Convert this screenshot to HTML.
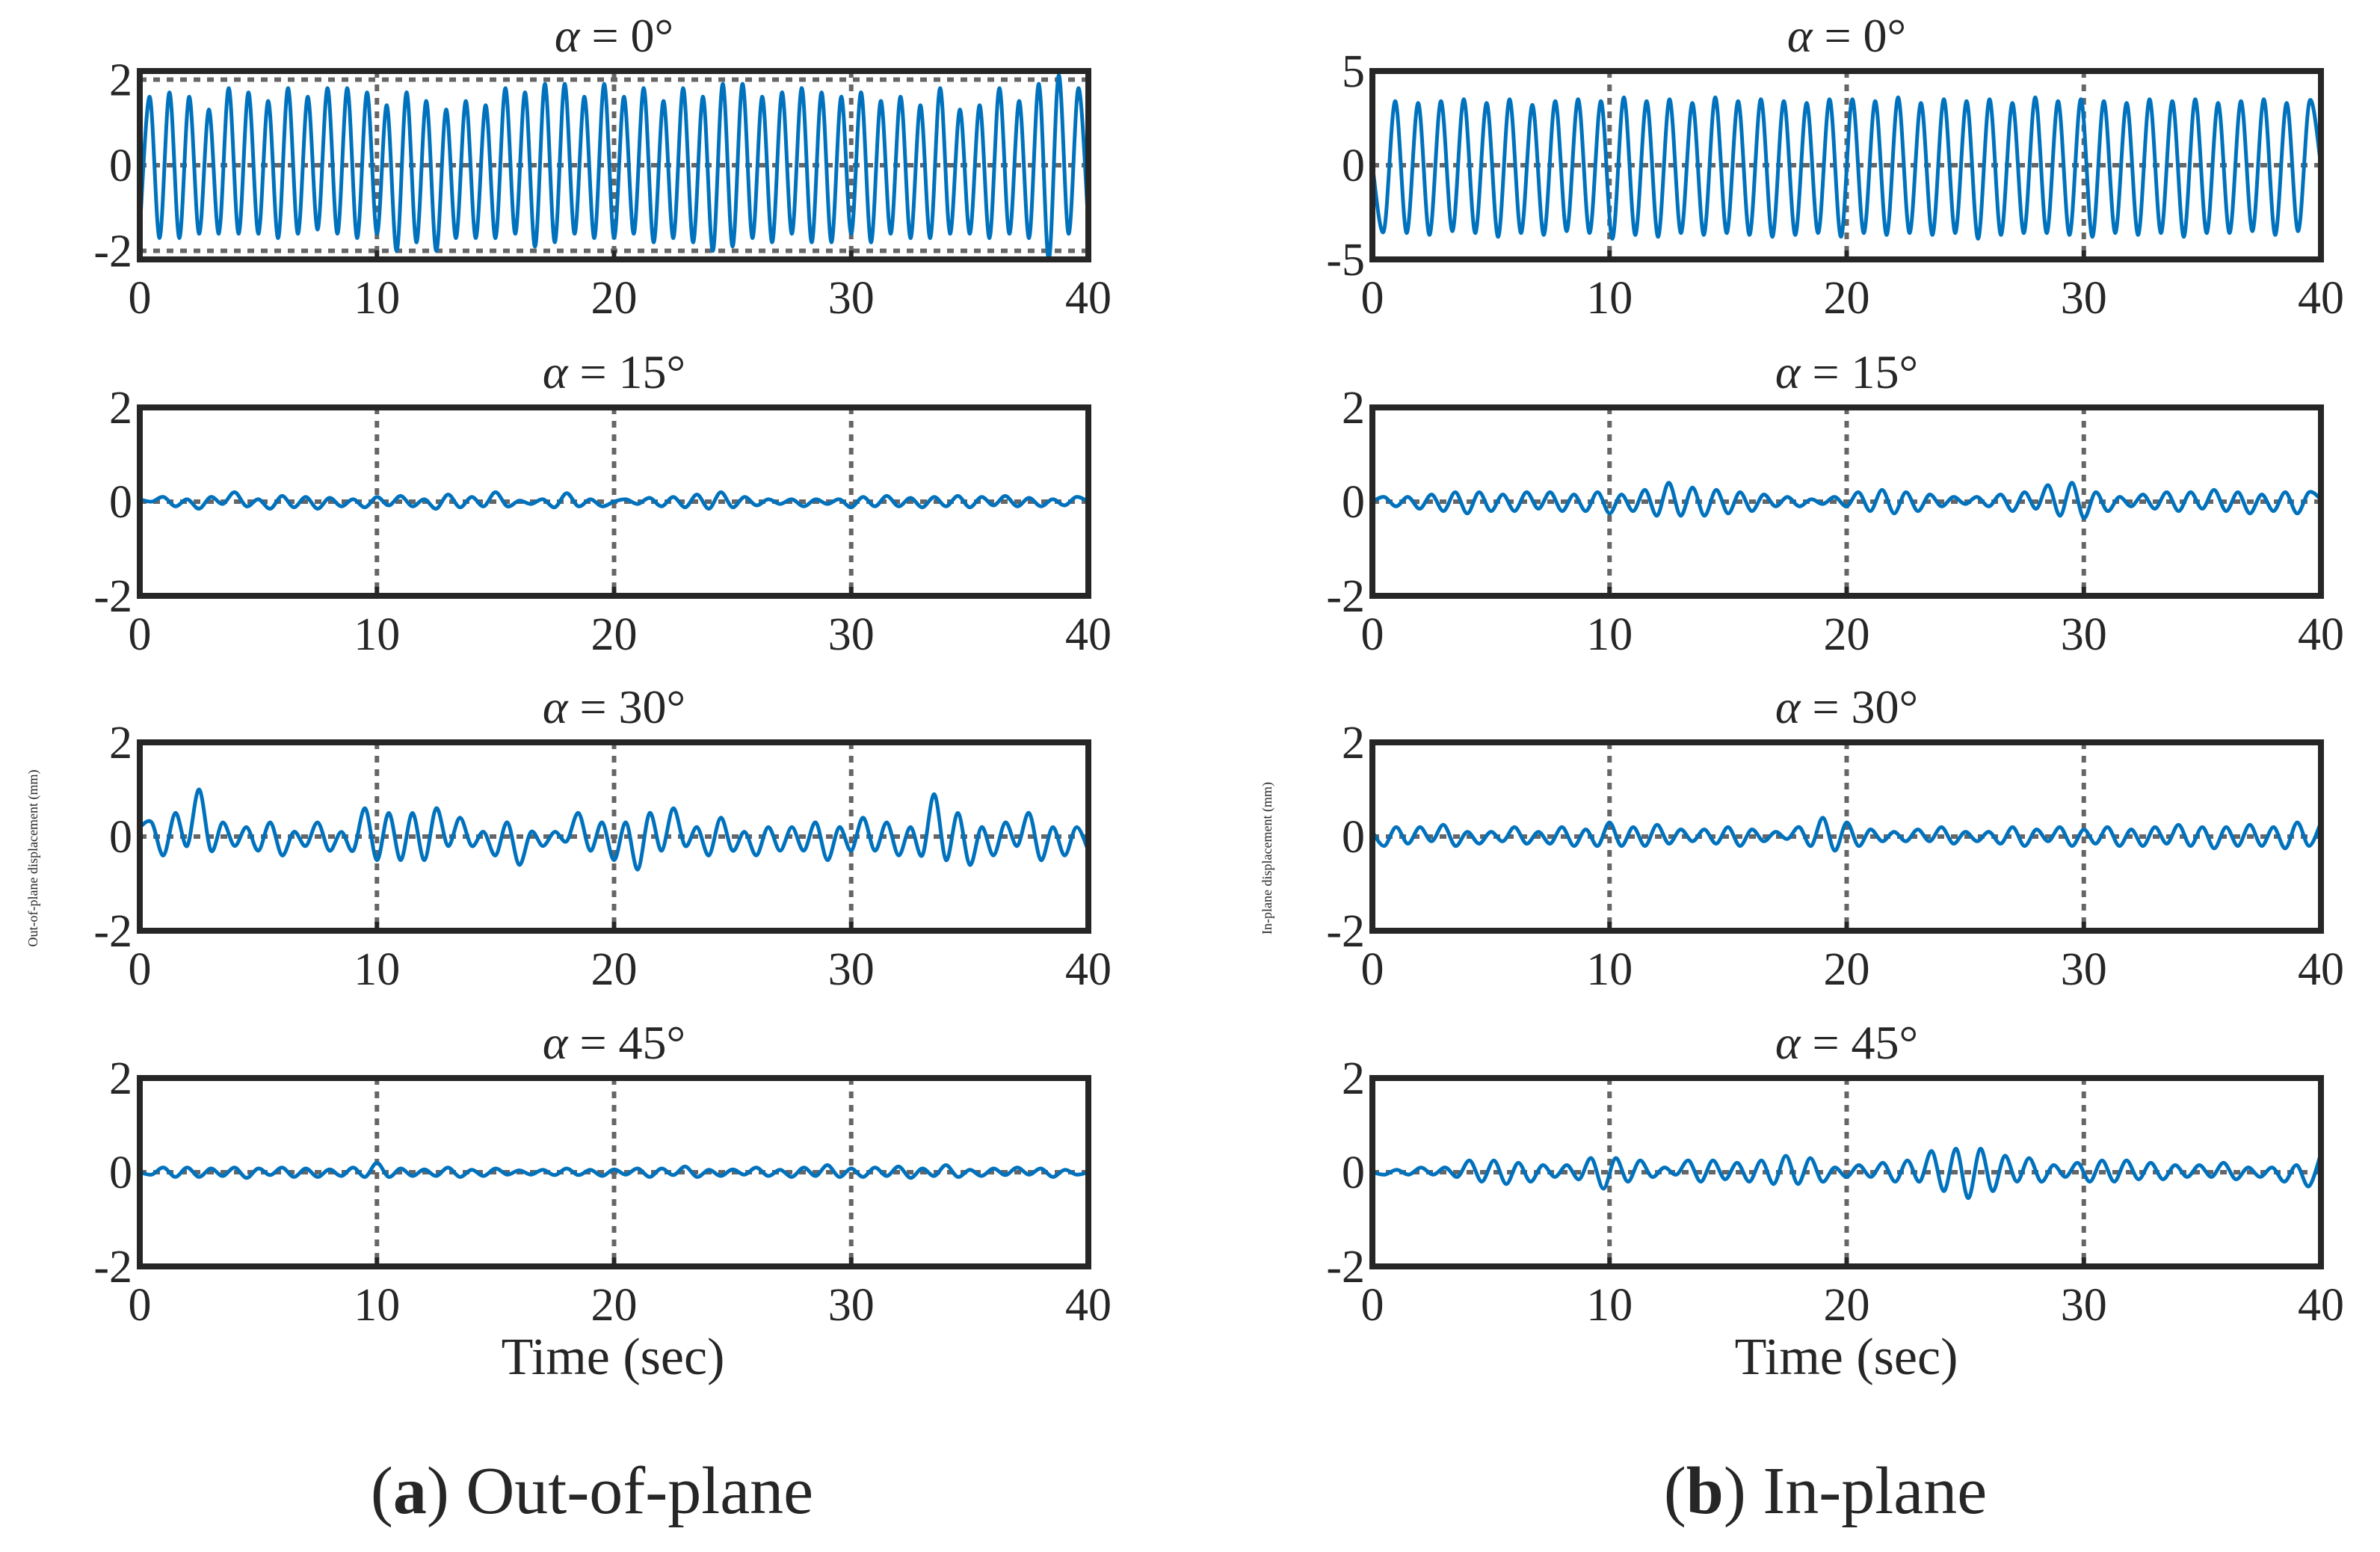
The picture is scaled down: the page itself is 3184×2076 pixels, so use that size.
<!DOCTYPE html>
<html><head><meta charset="utf-8"><style>
html,body{margin:0;padding:0;background:#fff;}
svg{display:block;}
text{font-family:"Liberation Serif",serif;fill:#262626;}
</style></head><body>
<svg id="fig" width="3184" height="2076" viewBox="0 0 3184 2076" xmlns="http://www.w3.org/2000/svg">
<rect width="3184" height="2076" fill="#fff"/>
<text transform="translate(50,1148) rotate(-90)" text-anchor="middle" font-size="18">Out-of-plane displacement (mm)</text>
<text transform="translate(1701,1148) rotate(-90)" text-anchor="middle" font-size="18">In-plane displacement (mm)</text>
<text x="820" y="1838" text-anchor="middle" font-size="70">Time (sec)</text>
<text x="2470" y="1838" text-anchor="middle" font-size="70">Time (sec)</text>
<text x="792" y="2024" text-anchor="middle" font-size="90">(<tspan font-weight="bold">a</tspan>) Out-of-plane</text>
<text x="2442" y="2024" text-anchor="middle" font-size="90">(<tspan font-weight="bold">b</tspan>) In-plane</text>
</svg>
<script>
const titles = ["0","15","30","45"];
const xTicks = [0,10,20,30,40];
const yTicksSmall = [-2,0,2];
const yTicksBig = [-5,0,5];
const L0 = [-1.5,1.6,-1.7,1.7,-1.7,1.6,-1.6,1.3,-1.6,1.8,-1.6,1.7,-1.6,1.5,-1.7,1.8,-1.6,1.6,-1.5,1.8,-1.6,1.8,-1.7,1.7,-1.6,1.4,-2.0,1.7,-1.8,1.5,-2.0,1.3,-1.7,1.5,-1.7,1.4,-1.7,1.8,-1.6,1.7,-1.9,1.9,-1.8,1.9,-1.6,1.6,-1.7,1.9,-1.7,1.6,-1.6,1.8,-1.8,1.5,-1.7,1.8,-1.8,1.6,-2.0,1.9,-1.9,1.9,-1.7,1.6,-1.8,1.7,-1.6,1.8,-1.8,1.7,-1.8,1.6,-1.6,1.7,-1.8,1.5,-1.6,1.6,-1.7,1.4,-1.7,1.8,-1.6,1.3,-1.6,1.4,-1.7,1.8,-1.6,1.5,-1.7,1.9,-2.2,2.1,-1.6,1.8,-1.4];
const L15 = [0.05,0.0,0.1,-0.1,0.05,-0.15,0.1,-0.05,0.2,-0.1,0.05,-0.15,0.12,-0.12,0.1,-0.15,0.08,-0.1,0.05,-0.12,0.1,-0.08,0.12,-0.1,0.05,-0.15,0.15,-0.12,0.1,-0.1,0.2,-0.1,0.02,-0.05,0.05,-0.12,0.18,-0.1,0.05,-0.1,0.0,0.05,-0.05,0.08,-0.1,0.1,-0.12,0.15,-0.15,0.2,-0.12,0.1,-0.08,0.05,-0.05,0.05,-0.1,0.05,-0.05,0.05,-0.12,0.1,-0.1,0.12,-0.1,0.08,-0.12,0.1,-0.1,0.12,-0.12,0.1,-0.08,0.12,-0.1,0.08,-0.1,0.05,-0.08,0.1,0.0];
const L30 = [0.2,0.3,-0.4,0.5,-0.2,1.0,-0.3,0.3,-0.2,0.2,-0.3,0.3,-0.4,0.1,-0.2,0.3,-0.3,0.1,-0.3,0.6,-0.5,0.5,-0.5,0.5,-0.5,0.6,-0.2,0.4,-0.2,0.1,-0.4,0.3,-0.6,0.1,-0.2,0.1,-0.1,0.5,-0.3,0.3,-0.5,0.3,-0.7,0.5,-0.3,0.6,-0.2,0.2,-0.4,0.4,-0.3,0.1,-0.4,0.2,-0.3,0.2,-0.3,0.3,-0.5,0.2,-0.3,0.4,-0.3,0.3,-0.4,0.2,-0.4,0.9,-0.5,0.5,-0.6,0.2,-0.4,0.3,-0.2,0.5,-0.5,0.2,-0.4,0.2,-0.3];
const L45 = [0.0,-0.05,0.1,-0.1,0.1,-0.1,0.08,-0.08,0.1,-0.12,0.08,-0.06,0.1,-0.1,0.08,-0.1,0.06,-0.08,0.1,-0.1,0.2,-0.1,0.08,-0.08,0.06,-0.08,0.1,-0.1,0.05,-0.08,0.08,-0.05,0.04,-0.05,0.05,-0.06,0.08,-0.06,0.05,-0.08,0.06,-0.05,0.08,-0.1,0.08,-0.06,0.12,-0.1,0.05,-0.08,0.06,-0.05,0.1,-0.08,0.05,-0.1,0.1,-0.08,0.15,-0.1,0.08,-0.1,0.1,-0.08,0.12,-0.12,0.08,-0.08,0.15,-0.1,0.05,-0.08,0.08,-0.06,0.1,-0.05,0.08,-0.1,0.05,-0.05,0.0];
const R0 = [0.0,-3.5,3.4,-3.6,3.3,-3.7,3.4,-3.5,3.5,-3.6,3.3,-3.8,3.5,-3.6,3.2,-3.7,3.4,-3.5,3.5,-3.6,3.4,-3.9,3.6,-3.7,3.4,-3.8,3.5,-3.6,3.3,-3.7,3.6,-3.6,3.4,-3.7,3.5,-3.8,3.4,-3.7,3.3,-3.6,3.5,-3.8,3.5,-3.6,3.4,-3.7,3.6,-3.6,3.3,-3.7,3.5,-3.6,3.4,-3.9,3.5,-3.7,3.3,-3.6,3.6,-3.6,3.4,-3.7,3.5,-3.8,3.4,-3.6,3.3,-3.7,3.5,-3.6,3.4,-3.8,3.5,-3.6,3.3,-3.6,3.4,-3.5,3.5,-3.7,3.3,-3.5,3.4,0.0];
const R15 = [0.0,0.1,-0.1,0.1,-0.15,0.15,-0.2,0.2,-0.25,0.2,-0.2,0.15,-0.2,0.2,-0.15,0.2,-0.2,0.15,-0.2,0.2,-0.25,0.15,-0.2,0.25,-0.3,0.4,-0.3,0.3,-0.3,0.25,-0.25,0.2,-0.2,0.15,-0.1,0.1,-0.1,0.05,-0.05,0.1,-0.1,0.2,-0.2,0.25,-0.25,0.2,-0.2,0.15,-0.1,0.1,-0.05,0.1,-0.1,0.15,-0.2,0.2,-0.15,0.35,-0.3,0.4,-0.35,0.2,-0.2,0.1,-0.1,0.15,-0.15,0.2,-0.2,0.2,-0.15,0.25,-0.2,0.2,-0.25,0.15,-0.2,0.2,-0.25,0.2,0.05];
const R30 = [0.1,-0.2,0.2,-0.15,0.2,-0.1,0.25,-0.2,0.1,-0.15,0.1,-0.1,0.2,-0.15,0.1,-0.15,0.2,-0.2,0.15,-0.2,0.3,-0.2,0.2,-0.2,0.25,-0.15,0.15,-0.1,0.15,-0.15,0.2,-0.2,0.15,-0.1,0.1,-0.05,0.2,-0.2,0.4,-0.3,0.3,-0.2,0.15,-0.1,0.1,-0.1,0.15,-0.1,0.2,-0.15,0.1,-0.1,0.1,-0.15,0.2,-0.2,0.15,-0.1,0.2,-0.2,0.15,-0.15,0.2,-0.2,0.15,-0.2,0.2,-0.15,0.25,-0.2,0.2,-0.25,0.2,-0.2,0.25,-0.2,0.2,-0.25,0.3,-0.2,0.3];
const R45 = [0.0,-0.05,0.05,-0.05,0.1,-0.05,0.1,-0.1,0.25,-0.2,0.25,-0.25,0.2,-0.2,0.15,-0.1,0.15,-0.15,0.3,-0.35,0.3,-0.2,0.25,-0.1,0.1,-0.05,0.25,-0.2,0.25,-0.15,0.2,-0.2,0.25,-0.25,0.35,-0.25,0.3,-0.2,0.1,-0.1,0.15,-0.1,0.2,-0.2,0.25,-0.2,0.45,-0.4,0.5,-0.55,0.5,-0.4,0.35,-0.2,0.3,-0.2,0.15,-0.1,0.2,-0.2,0.25,-0.2,0.25,-0.15,0.2,-0.15,0.15,-0.1,0.15,-0.1,0.2,-0.15,0.1,-0.1,0.1,-0.2,0.15,-0.3,0.4];
const leftSeries = [L0,L15,L30,L45];
const rightSeries = [R0,R15,R30,R45];

const NS = "http://www.w3.org/2000/svg";
const svg = document.getElementById('fig');
const rowTops = [95,545,993,1442];
const H = 252;
const cols = [{x0:187,x1:1456,side:"left"},{x0:1836,x1:3105,side:"right"}];

function mk(tag, attrs, parent){
  const e = document.createElementNS(NS, tag);
  for (const k in attrs) e.setAttribute(k, attrs[k]);
  (parent||svg).appendChild(e);
  return e;
}
function smoothPath(pts){
  let d = "M" + pts[0][0].toFixed(1) + "," + pts[0][1].toFixed(1);
  for (let i=0;i<pts.length-1;i++){
    const p0 = pts[Math.max(0,i-1)], p1 = pts[i], p2 = pts[i+1], p3 = pts[Math.min(pts.length-1,i+2)];
    const c1x = p1[0]+(p2[0]-p0[0])/6, c1y = p1[1]+(p2[1]-p0[1])/6;
    const c2x = p2[0]-(p3[0]-p1[0])/6, c2y = p2[1]-(p3[1]-p1[1])/6;
    d += "C"+c1x.toFixed(1)+","+c1y.toFixed(1)+" "+c2x.toFixed(1)+","+c2y.toFixed(1)+" "+p2[0].toFixed(1)+","+p2[1].toFixed(1);
  }
  return d;
}

cols.forEach((c, ci) => {
  rowTops.forEach((top, ri) => {
    const bottom = top + H;
    let yMin, yMax, yT;
    if (ci===1 && ri===0){ yMin=-5; yMax=5; yT=yTicksBig; }
    else if (ci===0 && ri===0){ yMin=-2.2; yMax=2.2; yT=yTicksSmall; }
    else { yMin=-2; yMax=2; yT=yTicksSmall; }
    const xs = v => c.x0 + (v-0)/(40-0)*(c.x1-c.x0);
    const ys = v => bottom - (v-yMin)/(yMax-yMin)*H;
    const g = mk('g', {});
    
    
    xTicks.slice(1,4).forEach(t => {
      const l = mk('line', {x1:xs(t),x2:xs(t),y1:top,y2:bottom,stroke:'#666','stroke-width':6,'stroke-dasharray':'9 9'}, g);
      
      
    });
    yT.forEach(t => {
      const l = mk('line', {x1:c.x0,x2:c.x1,y1:ys(t),y2:ys(t),stroke:'#666','stroke-width':6,'stroke-dasharray':'9 9'}, g);
      
      
    });
    const data = (ci===0?leftSeries:rightSeries)[ri];
    const n = data.length;
    const pts = data.map((v,i) => [xs(i*40/(n-1)), ys(v)]);
    const p = mk('path', {d:smoothPath(pts), fill:'none', stroke:'#0072BD','stroke-width':5,'stroke-linejoin':'round'}, g);
    
    
    const b = mk('rect', {x:c.x0,y:top,width:c.x1-c.x0,height:H,fill:'none',stroke:'#262626','stroke-width':8}, g);
    
    
    xTicks.forEach(t => {
      const tk = mk('line',{x1:xs(t),x2:xs(t),y1:bottom,y2:bottom-12,stroke:'#262626','stroke-width':6}, g);
      
      
      const tl = mk('text',{x:xs(t),y:bottom+72,'text-anchor':'middle','font-size':62}, g);
      tl.textContent = t;
      
      
    });
    yT.forEach(t => {
      const tl = mk('text',{x:c.x0-10,y:ys(t)+21,'text-anchor':'end','font-size':62}, g);
      tl.textContent = t;
      
      
    });
    const tt = mk('text',{x:(c.x0+c.x1)/2,y:top-26,'text-anchor':'middle','font-size':64}, g);
    tt.innerHTML = '<tspan font-style="italic">α</tspan> = '+titles[ri]+'°';
    
    
  });
});
</script>
</body></html>
